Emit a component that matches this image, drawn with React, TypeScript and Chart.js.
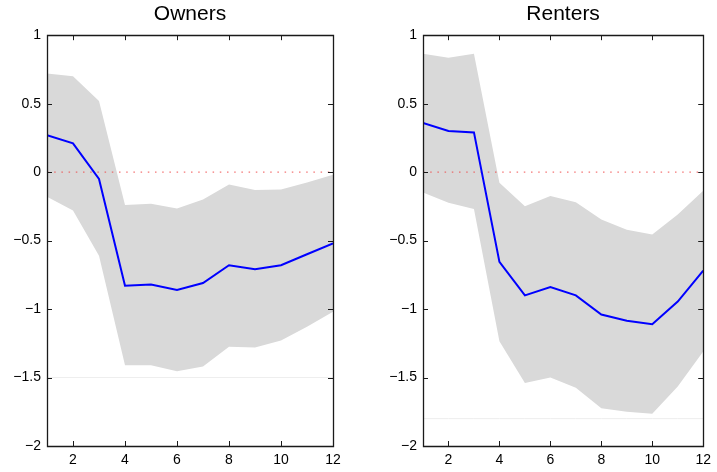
import React, { useEffect, useRef } from "react";
import { Chart, registerables } from "chart.js";

Chart.register(...registerables);

const steps = [1, 2, 3, 4, 5, 6, 7, 8, 9, 10, 11, 12];
const xTicks = [2, 4, 6, 8, 10, 12];
const yTicks = [-2, -1.5, -1, -0.5, 0, 0.5, 1];

const ownersIrf = [0.27, 0.21, -0.05, -0.83, -0.82, -0.86, -0.81, -0.68, -0.71, -0.68, -0.6, -0.52];
const ownersUpper = [0.72, 0.7, 0.52, -0.24, -0.23, -0.265, -0.2, -0.09, -0.13, -0.126, -0.075, -0.02];
const ownersLower = [-0.18, -0.28, -0.61, -1.41, -1.41, -1.455, -1.42, -1.275, -1.28, -1.23, -1.13, -1.02];
const ownersFaint = -1.5;

const rentersIrf = [0.36, 0.3, 0.29, -0.655, -0.9, -0.84, -0.9, -1.04, -1.085, -1.11, -0.945, -0.72];
const rentersUpper = [0.865, 0.835, 0.865, -0.078, -0.25, -0.175, -0.22, -0.345, -0.42, -0.455, -0.31, -0.136];
const rentersLower = [-0.148, -0.223, -0.27, -1.235, -1.54, -1.5, -1.575, -1.725, -1.75, -1.765, -1.565, -1.31];
const rentersFaint = -1.8;

const FONT = '"Liberation Sans", Arial, Helvetica, sans-serif';

const framePlugin = {
  id: "frameTicks",
  afterDraw(chart: any) {
    const { ctx, chartArea: a, scales } = chart;
    const xs = scales.x;
    const ys = scales.y;
    ctx.save();
    ctx.strokeStyle = "#1a1a1a";
    ctx.lineWidth = 1.3;
    ctx.beginPath();
    ctx.rect(Math.round(a.left) + 0.5, Math.round(a.top) + 0.5, Math.round(a.right - a.left), Math.round(a.bottom - a.top));
    ctx.stroke();
    const L = 5;
    ctx.lineWidth = 1;
    ctx.beginPath();
    xTicks.forEach((v) => {
      const px = Math.round(xs.getPixelForValue(v)) + 0.5;
      ctx.moveTo(px, a.bottom);
      ctx.lineTo(px, a.bottom - L);
      ctx.moveTo(px, a.top);
      ctx.lineTo(px, a.top + L);
    });
    yTicks.forEach((v) => {
      const py = Math.round(ys.getPixelForValue(v)) + 0.5;
      ctx.moveTo(a.left, py);
      ctx.lineTo(a.left + L, py);
      ctx.moveTo(a.right, py);
      ctx.lineTo(a.right - L, py);
    });
    ctx.stroke();
    ctx.restore();
  },
};

type PanelProps = {
  title: string;
  irf: number[];
  upper: number[];
  lower: number[];
  faint: number;
  left: number;
  width: number;
  rightPad: number;
};

function Panel({ title, irf, upper, lower, faint, left, width, rightPad }: PanelProps) {
  const ref = useRef<HTMLCanvasElement | null>(null);
  useEffect(() => {
    if (!ref.current) return;
    const pts = (arr: number[]) => steps.map((x, i) => ({ x, y: arr[i] }));
    const chart = new Chart(ref.current, {
      type: "line",
      data: {
        datasets: [
          {
            data: pts(irf),
            borderColor: "#0000ff",
            borderWidth: 2,
            pointRadius: 0,
            fill: false,
            order: 0,
            tension: 0,
          },
          {
            data: steps.map((x) => ({ x, y: 0 })),
            borderColor: "rgba(240,70,70,0.75)",
            borderWidth: 1.2,
            borderDash: [1.5, 5.7],
            pointRadius: 0,
            fill: false,
            order: 1,
          },
          {
            data: steps.map((x) => ({ x, y: faint })),
            borderColor: "#eeeeee",
            borderWidth: 1,
            pointRadius: 0,
            fill: false,
            order: 2,
          },
          {
            data: pts(upper),
            borderWidth: 0,
            borderColor: "rgba(0,0,0,0)",
            backgroundColor: "#d9d9d9",
            pointRadius: 0,
            fill: "+1",
            order: 3,
          },
          {
            data: pts(lower),
            borderWidth: 0,
            borderColor: "rgba(0,0,0,0)",
            pointRadius: 0,
            fill: false,
            order: 4,
          },
        ],
      },
      options: {
        animation: false,
        responsive: false,
        maintainAspectRatio: false,
        layout: { padding: { left: 0, right: rightPad, top: 0, bottom: 0 } },
        plugins: {
          legend: { display: false },
          tooltip: { enabled: false },
          title: {
            display: true,
            text: title,
            fullSize: false,
            color: "#000",
            font: { family: FONT, size: 21, weight: "normal" },
            padding: { top: 2, bottom: 8 },
          },
        },
        scales: {
          x: {
            type: "linear",
            min: 1,
            max: 12,
            afterBuildTicks: (s: any) => {
              s.ticks = xTicks.map((v) => ({ value: v }));
            },
            afterFit: (s: any) => {
              s.height = 26;
            },
            grid: { display: false, drawTicks: false },
            border: { display: false },
            ticks: {
              padding: 6,
              color: "#000",
              font: { family: FONT, size: 14 },
              maxRotation: 0,
              autoSkip: false,
              callback: (v: any) => String(v),
            },
          },
          y: {
            type: "linear",
            min: -2,
            max: 1,
            afterBuildTicks: (s: any) => {
              s.ticks = yTicks.map((v) => ({ value: v }));
            },
            afterFit: (s: any) => {
              s.width = 47;
            },
            grid: { display: false, drawTicks: false },
            border: { display: false },
            ticks: {
              padding: 6,
              color: "#000",
              font: { family: FONT, size: 14 },
              autoSkip: false,
              callback: (v: any) => String(v).replace("-", "\u2212"),
            },
          },
        },
      },
      plugins: [framePlugin],
    } as any);
    return () => chart.destroy();
  }, [title, irf, upper, lower, faint, rightPad]);
  return (
    <canvas
      ref={ref}
      width={width}
      height={472}
      style={{ position: "absolute", left, top: 0, width, height: 472 }}
    />
  );
}

export default function App() {
  return (
    <div style={{ position: "fixed", left: 0, top: 0, width: 717, height: 472, background: "#fff" }}>
      <Panel title="Owners" irf={ownersIrf} upper={ownersUpper} lower={ownersLower} faint={ownersFaint} left={0} width={358} rightPad={25} />
      <Panel title="Renters" irf={rentersIrf} upper={rentersUpper} lower={rentersLower} faint={rentersFaint} left={376} width={341} rightPad={8} />
    </div>
  );
}
